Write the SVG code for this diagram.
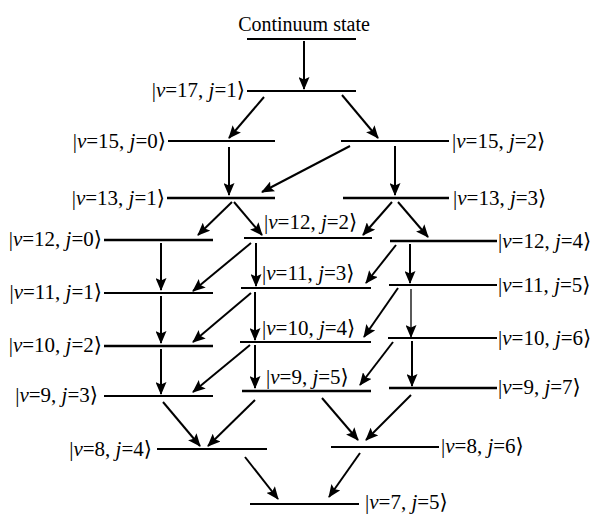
<svg xmlns="http://www.w3.org/2000/svg" width="594" height="514" viewBox="0 0 594 514">
<style>
.lv{stroke:#000;stroke-width:2;fill:none}
.tk{stroke-width:2.6}
.t{font-family:"Liberation Serif","DejaVu Serif",serif;font-size:21px;fill:#000}
.c{font-size:20px}
.i{font-style:italic}
.ar{stroke:#000;stroke-width:2;fill:none;marker-end:url(#ah)}
.thin{stroke-width:1.3}
</style>
<defs>
<marker id="ah" markerUnits="userSpaceOnUse" markerWidth="13" markerHeight="11" refX="12" refY="5.5" orient="auto">
<path d="M0,0 L13,5.5 L0,11 L2.5,5.5 z" fill="#000"/>
</marker>
</defs>
<rect width="594" height="514" fill="#fff"/>
<g id="continuum"><line class="lv" x1="247" y1="39" x2="356" y2="39"/><text class="t c" x="304" y="31" text-anchor="middle">Continuum state</text></g>
<g id="v17j1"><line class="lv" x1="247" y1="91" x2="356" y2="91"/><text class="t" x="245" y="97" text-anchor="end">|<tspan class="i">v</tspan>=17, <tspan class="i">j</tspan>=1⟩</text></g>
<g id="v15j0"><line class="lv" x1="168" y1="141" x2="275" y2="141"/><text class="t" x="166" y="148" text-anchor="end">|<tspan class="i">v</tspan>=15, <tspan class="i">j</tspan>=0⟩</text></g>
<g id="v15j2"><line class="lv" x1="341" y1="141" x2="449" y2="141"/><text class="t" x="452" y="148">|<tspan class="i">v</tspan>=15, <tspan class="i">j</tspan>=2⟩</text></g>
<g id="v13j1"><line class="lv tk" x1="167" y1="198" x2="275" y2="198"/><text class="t" x="165" y="205" text-anchor="end">|<tspan class="i">v</tspan>=13, <tspan class="i">j</tspan>=1⟩</text></g>
<g id="v13j3"><line class="lv tk" x1="343" y1="198" x2="449" y2="198"/><text class="t" x="453" y="205">|<tspan class="i">v</tspan>=13, <tspan class="i">j</tspan>=3⟩</text></g>
<g id="v12j0"><line class="lv tk" x1="104" y1="240" x2="213" y2="240"/><text class="t" x="102" y="246" text-anchor="end">|<tspan class="i">v</tspan>=12, <tspan class="i">j</tspan>=0⟩</text></g>
<g id="v12j2"><line class="lv" x1="244" y1="238" x2="372" y2="238"/><text class="t" x="264" y="229">|<tspan class="i">v</tspan>=12, <tspan class="i">j</tspan>=2⟩</text></g>
<g id="v12j4"><line class="lv tk" x1="390" y1="241" x2="497" y2="241"/><text class="t" x="498" y="248">|<tspan class="i">v</tspan>=12, <tspan class="i">j</tspan>=4⟩</text></g>
<g id="v11j1"><line class="lv" x1="104" y1="293" x2="213" y2="293"/><text class="t" x="102" y="299" text-anchor="end">|<tspan class="i">v</tspan>=11, <tspan class="i">j</tspan>=1⟩</text></g>
<g id="v11j3"><line class="lv" x1="241" y1="288" x2="371" y2="288"/><text class="t" x="262" y="280">|<tspan class="i">v</tspan>=11, <tspan class="i">j</tspan>=3⟩</text></g>
<g id="v11j5"><line class="lv" x1="389" y1="285" x2="497" y2="285"/><text class="t" x="498" y="292">|<tspan class="i">v</tspan>=11, <tspan class="i">j</tspan>=5⟩</text></g>
<g id="v10j2"><line class="lv tk" x1="104" y1="346" x2="213" y2="346"/><text class="t" x="102" y="352" text-anchor="end">|<tspan class="i">v</tspan>=10, <tspan class="i">j</tspan>=2⟩</text></g>
<g id="v10j4"><line class="lv" x1="240" y1="342" x2="371" y2="342"/><text class="t" x="262" y="335">|<tspan class="i">v</tspan>=10, <tspan class="i">j</tspan>=4⟩</text></g>
<g id="v10j6"><line class="lv" x1="388" y1="338" x2="497" y2="338"/><text class="t" x="498" y="345">|<tspan class="i">v</tspan>=10, <tspan class="i">j</tspan>=6⟩</text></g>
<g id="v9j3"><line class="lv" x1="104" y1="396" x2="213" y2="396"/><text class="t" x="98" y="402" text-anchor="end">|<tspan class="i">v</tspan>=9, <tspan class="i">j</tspan>=3⟩</text></g>
<g id="v9j5"><line class="lv tk" x1="242" y1="391" x2="371" y2="391"/><text class="t" x="266" y="384">|<tspan class="i">v</tspan>=9, <tspan class="i">j</tspan>=5⟩</text></g>
<g id="v9j7"><line class="lv tk" x1="389" y1="388" x2="497" y2="388"/><text class="t" x="498" y="394">|<tspan class="i">v</tspan>=9, <tspan class="i">j</tspan>=7⟩</text></g>
<g id="v8j4"><line class="lv" x1="157" y1="449" x2="267" y2="449"/><text class="t" x="152" y="456" text-anchor="end">|<tspan class="i">v</tspan>=8, <tspan class="i">j</tspan>=4⟩</text></g>
<g id="v8j6"><line class="lv" x1="331" y1="447" x2="439" y2="447"/><text class="t" x="441" y="453">|<tspan class="i">v</tspan>=8, <tspan class="i">j</tspan>=6⟩</text></g>
<g id="v7j5"><line class="lv" x1="250" y1="504" x2="359" y2="504"/><text class="t" x="365" y="509">|<tspan class="i">v</tspan>=7, <tspan class="i">j</tspan>=5⟩</text></g>
<g id="connectors">
<line class="ar" x1="304" y1="41" x2="304" y2="89"/>
<line class="ar" x1="264" y1="97" x2="229" y2="138"/>
<line class="ar" x1="342" y1="95" x2="378" y2="138"/>
<line class="ar" x1="229" y1="147" x2="229" y2="195"/>
<line class="ar" x1="350" y1="146" x2="262" y2="192"/>
<line class="ar" x1="395" y1="146" x2="395" y2="195"/>
<line class="ar" x1="232" y1="202" x2="198" y2="235"/>
<line class="ar" x1="234" y1="202" x2="262" y2="235"/>
<line class="ar" x1="392" y1="202" x2="363" y2="235"/>
<line class="ar" x1="398" y1="202" x2="428" y2="237"/>
<line class="ar" x1="161" y1="243" x2="161" y2="290"/>
<line class="ar" x1="251" y1="243" x2="193" y2="291"/>
<line class="ar" x1="256" y1="243" x2="256" y2="286"/>
<line class="ar" x1="396" y1="245" x2="366" y2="283"/>
<line class="ar" x1="410" y1="244" x2="410" y2="283"/>
<line class="ar" x1="161" y1="296" x2="161" y2="343"/>
<line class="ar" x1="251" y1="293" x2="193" y2="342"/>
<line class="ar" x1="255" y1="292" x2="255" y2="340"/>
<line class="ar" x1="398" y1="288" x2="364" y2="337"/>
<line class="ar thin" x1="411" y1="289" x2="411" y2="337"/>
<line class="ar" x1="161" y1="349" x2="161" y2="394"/>
<line class="ar" x1="250" y1="345" x2="193" y2="392"/>
<line class="ar" x1="255" y1="345" x2="255" y2="388"/>
<line class="ar" x1="393" y1="342" x2="360" y2="385"/>
<line class="ar" x1="412" y1="341" x2="412" y2="386"/>
<line class="ar" x1="163" y1="402" x2="200" y2="446"/>
<line class="ar" x1="255" y1="400" x2="208" y2="446"/>
<line class="ar" x1="322" y1="398" x2="358" y2="440"/>
<line class="ar" x1="411" y1="395" x2="366" y2="440"/>
<line class="ar" x1="245" y1="457" x2="278" y2="499"/>
<line class="ar" x1="360" y1="453" x2="329" y2="497"/>
</g>
</svg>
